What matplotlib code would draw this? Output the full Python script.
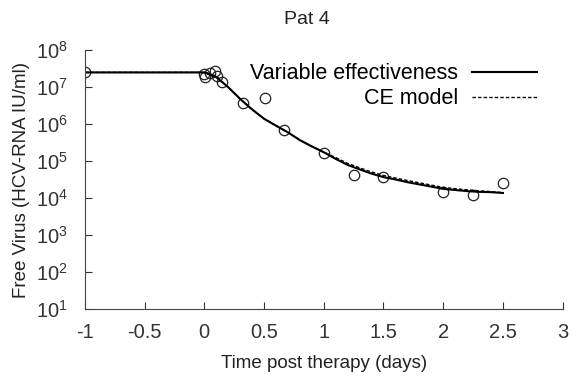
import numpy as np
import matplotlib
matplotlib.use('Agg')
import matplotlib.pyplot as plt

plt.rcParams['font.family'] = ['Liberation Sans', 'DejaVu Sans']
plt.rcParams['mathtext.fontset'] = 'custom'
plt.rcParams['mathtext.rm'] = 'Liberation Sans'
plt.rcParams['mathtext.it'] = 'Liberation Sans:italic'

# measured data (days, IU/ml)
t_data = [-1.0, 0.0, 0.01, 0.05, 0.09, 0.11, 0.15, 0.32, 0.51, 0.67, 1.0, 1.25, 1.5, 2.0, 2.25, 2.5]
v_data = [2.5e7, 2.2e7, 1.9e7, 2.4e7, 2.7e7, 2.0e7, 1.4e7, 3.7e6, 5.0e6, 6.9e5, 1.7e5, 4.2e4, 3.8e4, 1.45e4, 1.2e4, 2.6e4]

# model curves
t_fit = [-1.0, 0.0, 0.1, 0.2, 0.3, 0.4, 0.5, 0.6, 0.7, 0.8, 0.9, 1.0, 1.1, 1.2, 1.3,
         1.4, 1.5, 1.6, 1.7, 1.8, 1.9, 2.0, 2.1, 2.2, 2.3, 2.4, 2.5]
v_var = [2.5e7, 2.5e7, 1.86e7, 1.0e7, 4.8e6, 2.5e6, 1.4e6, 9.1e5, 6.0e5, 3.7e5, 2.5e5, 1.74e5, 1.15e5, 7.9e4, 6.0e4,
         4.6e4, 3.7e4, 3.2e4, 2.7e4, 2.35e4, 2.05e4, 1.78e4, 1.66e4, 1.55e4, 1.48e4, 1.45e4, 1.38e4]
v_ce = [2.5e7, 2.5e7, 2.0e7, 1.0e7, 4.8e6, 2.5e6, 1.4e6, 9.1e5, 6.0e5, 3.7e5, 2.5e5, 1.76e5, 1.25e5, 8.7e4, 6.6e4,
        5.1e4, 4.1e4, 3.5e4, 3.0e4, 2.6e4, 2.25e4, 1.95e4, 1.8e4, 1.68e4, 1.58e4, 1.5e4, 1.4e4]

fig = plt.figure(figsize=(5.73, 3.77), dpi=100)
ax = fig.add_axes([0.148, 0.180, 0.834, 0.687])

ax.plot(t_data, v_data, linestyle='none', marker='o', ms=7.5, mfc='none', mec='#222222', mew=0.9)
ax.plot(t_fit, v_var, c='k', lw=1.5, label='Variable effectiveness')
ax.plot(t_fit, v_ce, c='k', lw=1.0, ls=(0, (2.5, 1.5)), label='CE model')

ax.set_yscale('log')
ax.set_xlim(-1, 3)
ax.set_ylim(10, 1e8)
ax.set_xticks(np.arange(-1, 3.01, 0.5))
ax.set_xticklabels(['-1', '-0.5', '0', '0.5', '1', '1.5', '2', '2.5', '3'])
ax.set_yticks([10.0**k for k in range(1, 9)])
ax.yaxis.set_minor_locator(matplotlib.ticker.NullLocator())
ax.tick_params(which='major', direction='in', length=5, width=0.8, labelsize=14.5, colors='#333333')
ax.tick_params(axis='x', pad=10)
ax.tick_params(axis='y', pad=12)
ax.spines['top'].set_visible(False)
ax.spines['right'].set_visible(False)
for s in ['left', 'bottom']:
    ax.spines[s].set_color('#444444')

ax.legend(loc='upper right', bbox_to_anchor=(0.946, 0.95), frameon=False, markerfirst=False,
          borderaxespad=0, borderpad=0, handlelength=3.0, fontsize=15.5, labelspacing=0.2,
          handletextpad=0.65)

ax.set_xlabel('Time post therapy (days)', fontsize=13.5, color='#222222', labelpad=9)
fig.text(0.536, 0.947, 'Pat 4', ha='center', va='center', fontsize=14, color='#222222')
fig.text(0.038, 0.523, 'Free Virus (HCV-RNA IU/ml)', ha='center', va='center', rotation=90,
         fontsize=13.5, color='#222222')

fig.savefig('out.png', dpi=100)
